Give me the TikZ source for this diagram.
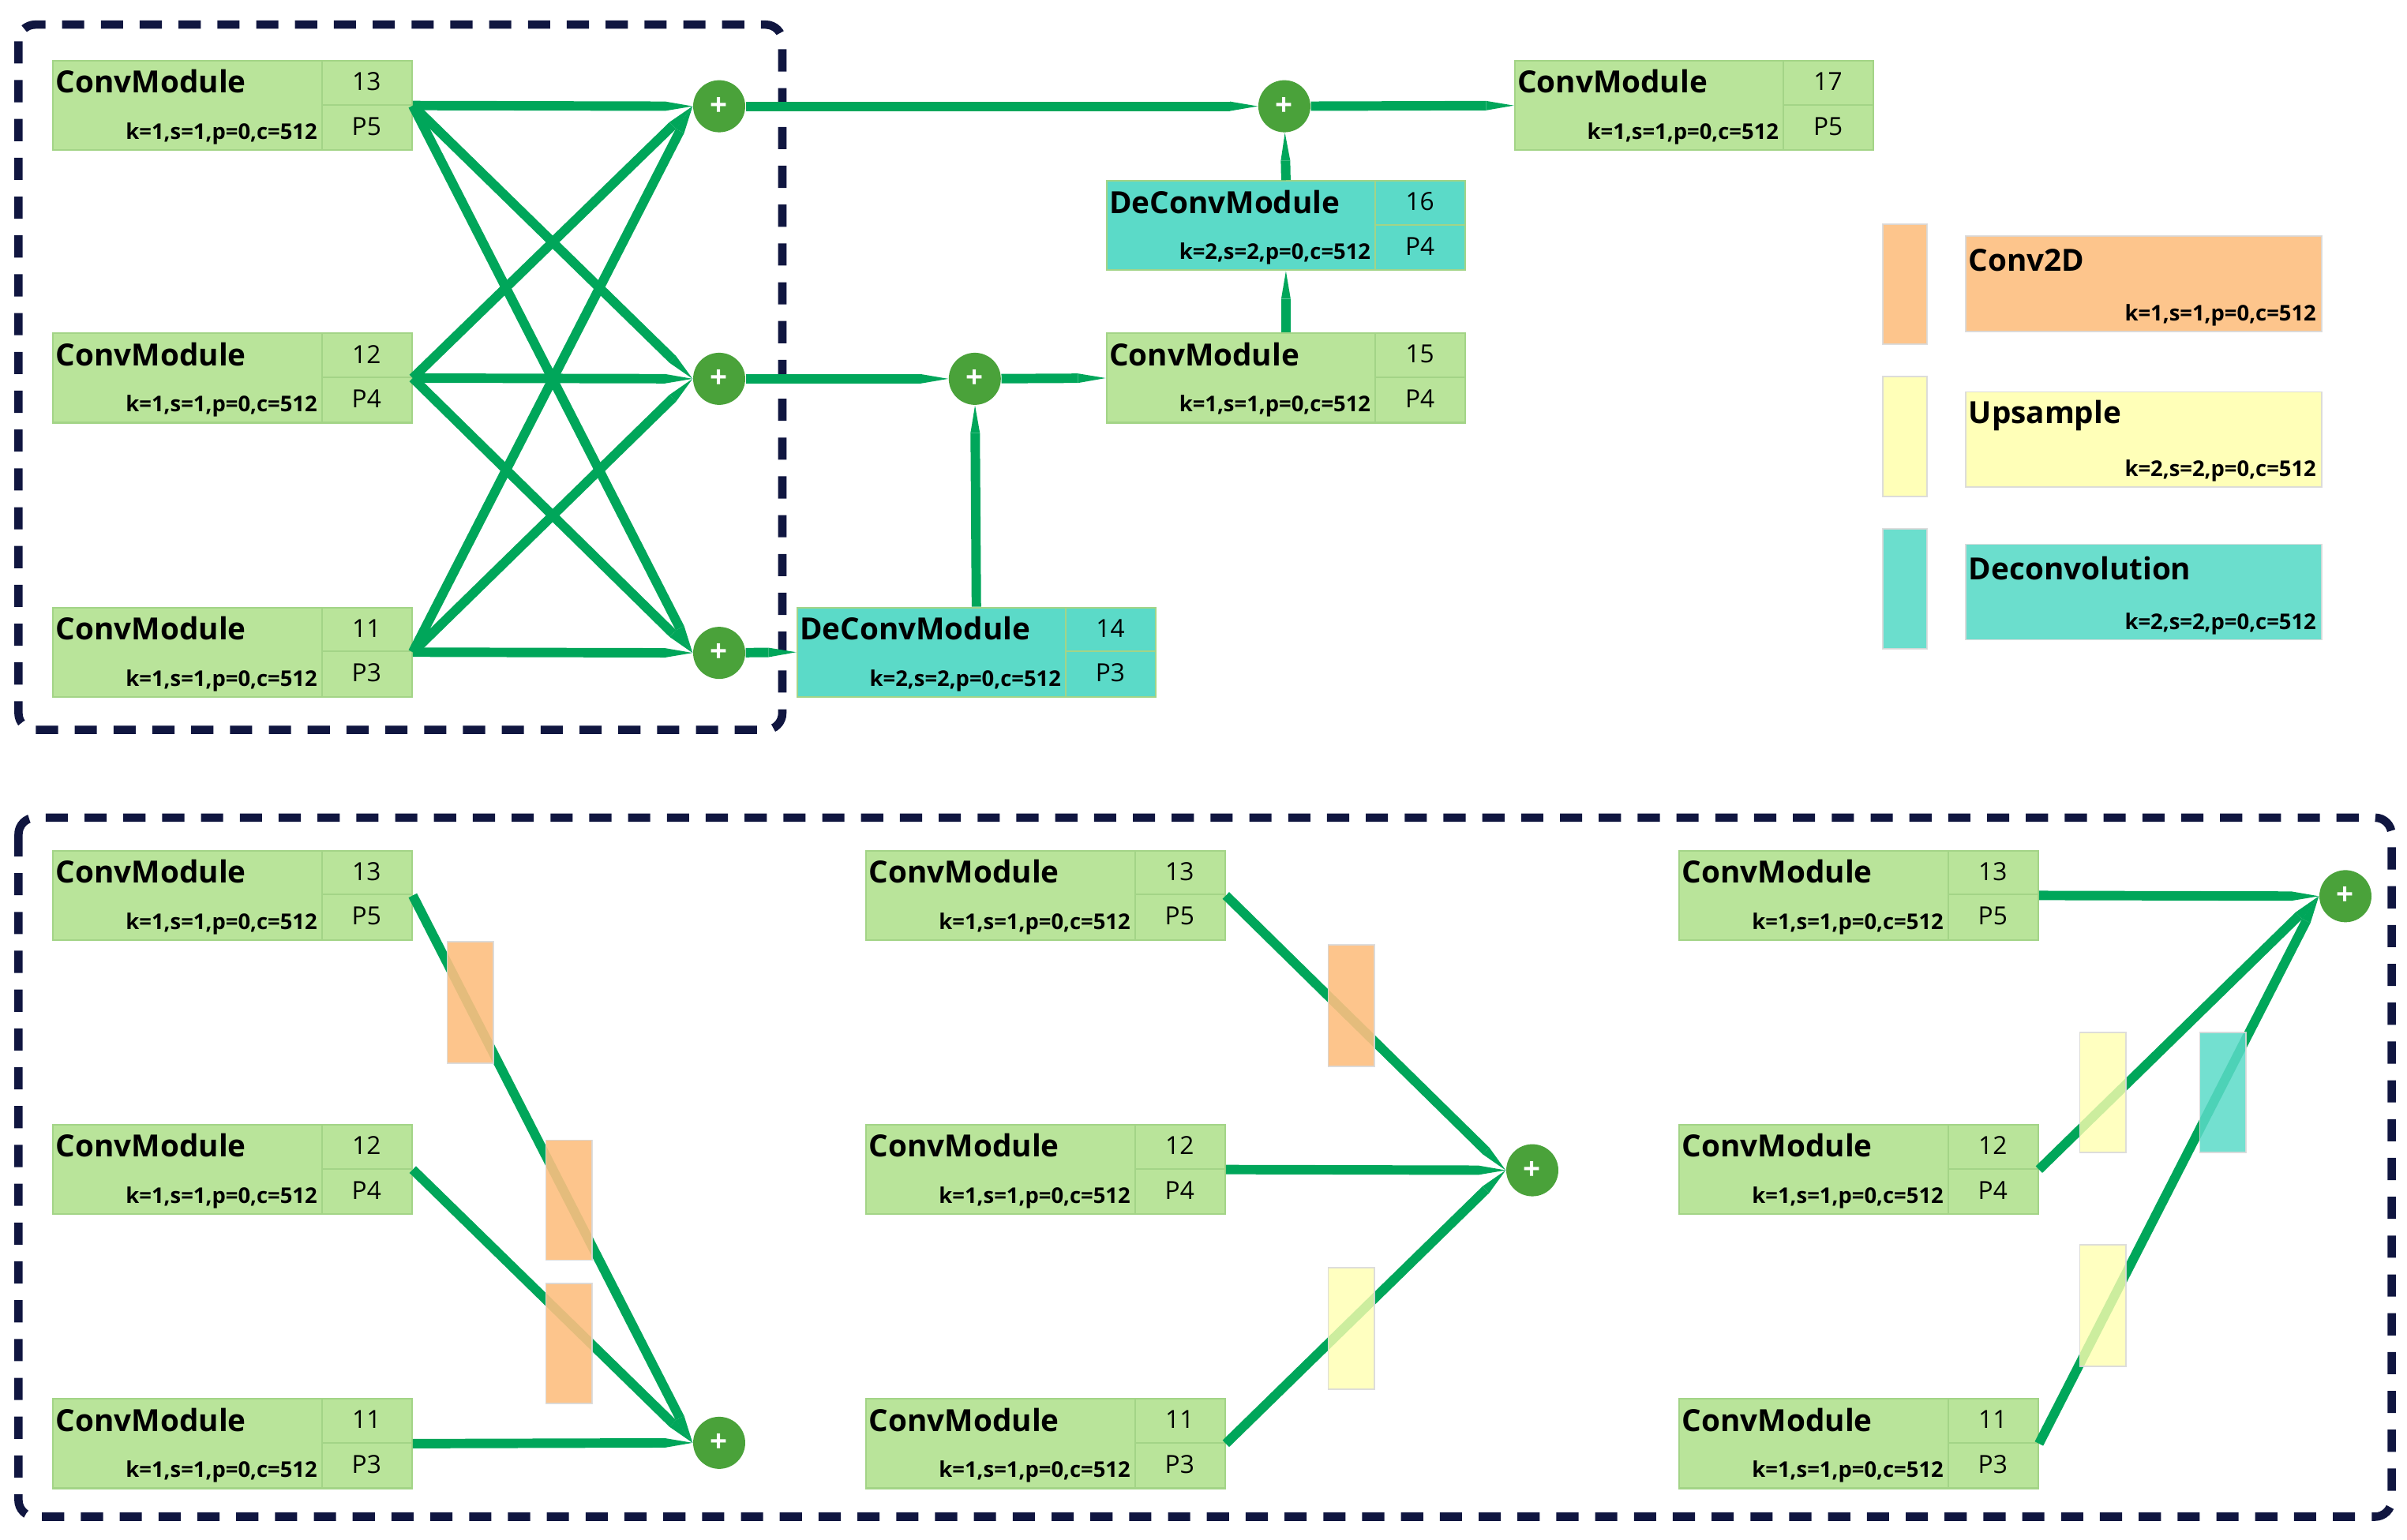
\documentclass[tikz,border=0pt]{standalone}
\usepackage{fontspec}
\setmainfont{Open Sans}
\usetikzlibrary{arrows.meta}
\definecolor{gbox}{HTML}{B9E49A}
\definecolor{gedge}{HTML}{A3D487}
\definecolor{teal}{HTML}{5BDAC8}
\definecolor{orng}{HTML}{FDBF80}
\definecolor{ylw}{HTML}{FFFFB0}
\definecolor{gline}{HTML}{00A65A}
\definecolor{gplus}{HTML}{4AA23A}
\definecolor{navy}{HTML}{101640}
\tikzset{
 box/.style={draw=gedge, line width=0.6pt, minimum width=4.546cm, minimum height=1.1316cm, anchor=north west, inner sep=0pt},
 ttl/.style={font=\bfseries\fontsize{11}{12}\selectfont, anchor=west, inner sep=0pt},
 kt/.style={font=\bfseries\fontsize{7.8}{8}\selectfont, anchor=south east, inner sep=1.5pt},
 nt/.style={font=\fontsize{9}{10}\selectfont, inner sep=0pt},
 plus/.style={circle, fill=gplus, minimum size=0.66cm, inner sep=0pt, text=white, font=\bfseries\fontsize{11}{11}\selectfont},
 con/.style={draw=gline, line width=3.4pt, -{Triangle[length=10pt,width=3.4pt,line width=0pt]}},
 grpbox/.style={draw=navy, line width=3pt, dash pattern=on 8pt off 6pt, rounded corners=6pt},
 blk/.style={draw=black!15, line width=0.5pt, opacity=0.9},
}
\newcommand\cmod[7]{%
 \node[box, fill=#7] (#1) at (#2,#3) {};
 \draw[gedge, line width=0.6pt] (#2+175,#3) -- (#2+175,#3+58) (#2+175,#3+29) -- (#2+233,#3+29);
 \node[ttl] at (#2+2,#3+14) {#4};
 \node[kt] at (#2+175,#3+58) {k=#5,s=#5,p=0,c=512};
 \node[nt] at (#2+204,#3+14) {#6};
}
\begin{document}
\begin{tikzpicture}[x=0.01951cm, y=-0.01951cm]
\useasboundingbox (0,0) rectangle (1563,1000);
\draw[grpbox] (12,16) rectangle (508,474);
\draw[grpbox] (12,531) rectangle (1553,985);
% top
\cmod{a13}{34}{39}{ConvModule}{1}{13}{gbox}\node[nt] at (238,82) {P5};
\cmod{a12}{34}{216}{ConvModule}{1}{12}{gbox}\node[nt] at (238,259) {P4};
\cmod{a11}{34}{394}{ConvModule}{1}{11}{gbox}\node[nt] at (238,437) {P3};
\node[plus] (p1) at (467,69) {+};
\node[plus] (p2) at (467,246) {+};
\node[plus] (p3) at (467,424) {+};
\node[plus] (p4) at (834,69) {+};
\node[plus] (p5) at (633,246) {+};
\cmod{a17}{983}{39}{ConvModule}{1}{17}{gbox}\node[nt] at (1187,82) {P5};
\cmod{a16}{718}{117}{DeConvModule}{2}{16}{teal}\node[nt] at (922,160) {P4};
\cmod{a15}{718}{216}{ConvModule}{1}{15}{gbox}\node[nt] at (922,259) {P4};
\cmod{a14}{517}{394}{DeConvModule}{2}{14}{teal}\node[nt] at (721,437) {P3};
\foreach \s in {a13,a12,a11}{\foreach \t in {p1,p2,p3}{\draw[con] (\s.east) -- (\t.west);}}
\draw[con] (p1) -- (p4);
\draw[con] (p4) -- (a17.west);
\draw[con] (a16.north) -- (p4);
\draw[con] (a15.north) -- (a16.south);
\draw[con] (p2) -- (p5);
\draw[con] (p5) -- (a15.west);
\draw[con] (a14.north) -- (p5);
\draw[con] (p3) -- (a14.west);
% legend
\node[blk, fill=orng, minimum width=0.566cm, minimum height=1.52cm, anchor=north west, inner sep=0pt] (l1) at (1222,145) {};
\node[blk, fill=orng, minimum width=4.51cm, minimum height=1.21cm, anchor=north west, inner sep=0pt] (b1) at (1276,153) {};
\node[ttl] at (1278,169) {Conv2D};\node[kt] at (1507,215) {k=1,s=1,p=0,c=512};
\node[blk, fill=ylw, minimum width=0.566cm, minimum height=1.52cm, anchor=north west, inner sep=0pt] (l2) at (1222,244) {};
\node[blk, fill=ylw, minimum width=4.51cm, minimum height=1.21cm, anchor=north west, inner sep=0pt] (b2) at (1276,254) {};
\node[ttl] at (1278,270) {Upsample};\node[kt] at (1507,316) {k=2,s=2,p=0,c=512};
\node[blk, fill=teal, minimum width=0.566cm, minimum height=1.52cm, anchor=north west, inner sep=0pt] (l3) at (1222,343) {};
\node[blk, fill=teal, minimum width=4.51cm, minimum height=1.21cm, anchor=north west, inner sep=0pt] (b3) at (1276,353) {};
\node[ttl] at (1278,369) {Deconvolution};\node[kt] at (1507,415) {k=2,s=2,p=0,c=512};
% bottom left
\cmod{b13}{34}{552}{ConvModule}{1}{13}{gbox}\node[nt] at (238,595) {P5};
\cmod{b12}{34}{730}{ConvModule}{1}{12}{gbox}\node[nt] at (238,773) {P4};
\cmod{b11}{34}{908}{ConvModule}{1}{11}{gbox}\node[nt] at (238,951) {P3};
\node[plus] (q1) at (467,937) {+};
\draw[con] (b13.east) -- (q1.west);
\draw[con] (b12.east) -- (q1.west);
\draw[con] (b11.east) -- (q1.west);
\node[blk, fill=orng, minimum width=0.585cm, minimum height=1.54cm, anchor=north west, inner sep=0pt] (r1) at (290,611) {};
\node[blk, fill=orng, minimum width=0.585cm, minimum height=1.52cm, anchor=north west, inner sep=0pt] (r2) at (354,740) {};
\node[blk, fill=orng, minimum width=0.585cm, minimum height=1.52cm, anchor=north west, inner sep=0pt] (r3) at (354,833) {};
% bottom middle
\cmod{c13}{562}{552}{ConvModule}{1}{13}{gbox}\node[nt] at (766,595) {P5};
\cmod{c12}{562}{730}{ConvModule}{1}{12}{gbox}\node[nt] at (766,773) {P4};
\cmod{c11}{562}{908}{ConvModule}{1}{11}{gbox}\node[nt] at (766,951) {P3};
\node[plus] (q2) at (995,760) {+};
\draw[con] (c13.east) -- (q2.west);
\draw[con] (c12.east) -- (q2.west);
\draw[con] (c11.east) -- (q2.west);
\node[blk, fill=orng, minimum width=0.585cm, minimum height=1.54cm, anchor=north west, inner sep=0pt] (r4) at (862,613) {};
\node[blk, fill=ylw, fill opacity=0.8, minimum width=0.585cm, minimum height=1.54cm, anchor=north west, inner sep=0pt] (r5) at (862,823) {};
% bottom right
\cmod{d13}{1090}{552}{ConvModule}{1}{13}{gbox}\node[nt] at (1294,595) {P5};
\cmod{d12}{1090}{730}{ConvModule}{1}{12}{gbox}\node[nt] at (1294,773) {P4};
\cmod{d11}{1090}{908}{ConvModule}{1}{11}{gbox}\node[nt] at (1294,951) {P3};
\node[plus] (q3) at (1523,582) {+};
\draw[con] (d13.east) -- (q3.west);
\draw[con] (d12.east) -- (q3.west);
\draw[con] (d11.east) -- (q3.west);
\node[blk, fill=ylw, fill opacity=0.8, minimum width=0.585cm, minimum height=1.52cm, anchor=north west, inner sep=0pt] (r6) at (1350,670) {};
\node[blk, fill=ylw, fill opacity=0.8, minimum width=0.585cm, minimum height=1.54cm, anchor=north west, inner sep=0pt] (r7) at (1350,808) {};
\node[blk, fill=teal, fill opacity=0.85, minimum width=0.585cm, minimum height=1.52cm, anchor=north west, inner sep=0pt] (r8) at (1428,670) {};
\end{tikzpicture}
\end{document}
